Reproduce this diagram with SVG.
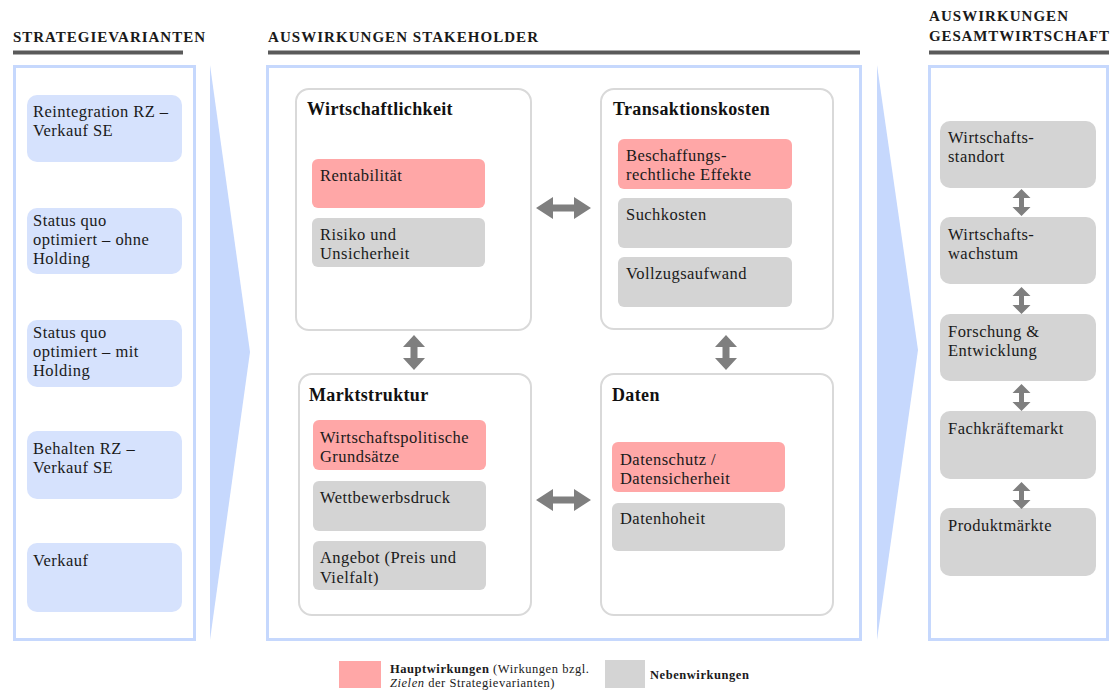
<svg xmlns="http://www.w3.org/2000/svg" width="1117" height="690" viewBox="0 0 1117 690">
<style>
.h{font-family:"Liberation Serif","Times New Roman",serif;font-weight:bold;font-size:15px;fill:#1a1a1a}
.t{font-family:"Liberation Serif","Times New Roman",serif;font-size:16.5px;letter-spacing:0.45px;fill:#1a1a1a}
.tt{font-family:"Liberation Serif","Times New Roman",serif;font-size:18px;letter-spacing:0.35px;font-weight:bold;fill:#111}
.lg{font-family:"Liberation Serif","Times New Roman",serif;font-size:12.5px;letter-spacing:0.55px;fill:#1a1a1a}
.bar{fill:#5a5a5a}
.panel{fill:#fff;stroke:#c6d8fd;stroke-width:3}
.wedge{fill:#c6d8fd}
.sv{fill:#d6e2fd}
.sub{fill:#fff;stroke:#d9d9d9;stroke-width:2}
.main{fill:#ffa7a7}
.side{fill:#d4d4d4}
.arr{fill:#7f7f7f}
</style>
<rect width="1117" height="690" fill="#fff"/>
<g id="headings">
<text class="h" x="13" y="42" textLength="192" lengthAdjust="spacing">STRATEGIEVARIANTEN</text>
<rect class="bar" x="13" y="50.5" width="170" height="4"/>
<text class="h" x="268" y="42" textLength="270" lengthAdjust="spacing">AUSWIRKUNGEN  STAKEHOLDER</text>
<rect class="bar" x="268" y="50.5" width="592" height="4"/>
<text class="h" x="929" y="21" textLength="139" lengthAdjust="spacing">AUSWIRKUNGEN</text>
<text class="h" x="929" y="41" textLength="180" lengthAdjust="spacing">GESAMTWIRTSCHAFT</text>
<rect class="bar" x="929" y="50.5" width="180" height="4"/>
</g>
<g id="panels">
<rect class="panel" x="14.5" y="66.5" width="180" height="573"/>
<polygon class="wedge" points="210,65 250,352 210,640"/>
<rect class="panel" x="267.5" y="66.5" width="593" height="573"/>
<polygon class="wedge" points="877,65 918,350 877,640"/>
<rect class="panel" x="929.5" y="66.5" width="178" height="573"/>
</g>
<g id="strategievarianten">
<g id="sv1"><rect class="sv" x="27" y="95" width="155" height="67" rx="10"/><text class="t" x="33" y="117">Reintegration RZ –</text><text class="t" x="33" y="136">Verkauf SE</text></g>
<g id="sv2"><rect class="sv" x="27" y="208" width="155" height="66" rx="10"/><text class="t" x="33" y="226">Status quo</text><text class="t" x="33" y="245">optimiert – ohne</text><text class="t" x="33" y="264">Holding</text></g>
<g id="sv3"><rect class="sv" x="27" y="320" width="155" height="67" rx="10"/><text class="t" x="33" y="338">Status quo</text><text class="t" x="33" y="357">optimiert – mit</text><text class="t" x="33" y="376">Holding</text></g>
<g id="sv4"><rect class="sv" x="27" y="431" width="155" height="68" rx="10"/><text class="t" x="33" y="454">Behalten RZ –</text><text class="t" x="33" y="473">Verkauf SE</text></g>
<g id="sv5"><rect class="sv" x="27" y="543" width="155" height="69" rx="10"/><text class="t" x="33" y="566">Verkauf</text></g>
</g>
<g id="wirtschaftlichkeit">
<rect class="sub" x="296" y="89" width="235" height="241" rx="13"/>
<text class="tt" x="307" y="115">Wirtschaftlichkeit</text>
<g id="rentabilitaet"><rect class="main" x="312" y="159" width="173" height="49" rx="6"/><text class="t" x="320" y="181">Rentabilität</text></g>
<g id="risiko"><rect class="side" x="312" y="218" width="173" height="49" rx="6"/><text class="t" x="320" y="240">Risiko und</text><text class="t" x="320" y="259">Unsicherheit</text></g>
</g>
<g id="transaktionskosten">
<rect class="sub" x="601" y="89" width="232" height="240" rx="13"/>
<text class="tt" x="613" y="115">Transaktionskosten</text>
<g id="beschaffung"><rect class="main" x="618" y="139" width="174" height="50" rx="6"/><text class="t" x="626" y="161">Beschaffungs-</text><text class="t" x="626" y="180">rechtliche Effekte</text></g>
<g id="suchkosten"><rect class="side" x="618" y="198" width="174" height="50" rx="6"/><text class="t" x="626" y="220">Suchkosten</text></g>
<g id="vollzug"><rect class="side" x="618" y="257" width="174" height="50" rx="6"/><text class="t" x="626" y="279">Vollzugsaufwand</text></g>
</g>
<g id="marktstruktur">
<rect class="sub" x="299" y="374" width="232" height="241" rx="13"/>
<text class="tt" x="309" y="401">Marktstruktur</text>
<g id="wirtschaftspolitik"><rect class="main" x="313" y="420" width="173" height="50" rx="6"/><text class="t" x="320" y="443">Wirtschaftspolitische</text><text class="t" x="320" y="462">Grundsätze</text></g>
<g id="wettbewerb"><rect class="side" x="313" y="481" width="173" height="50" rx="6"/><text class="t" x="320" y="503">Wettbewerbsdruck</text></g>
<g id="angebot"><rect class="side" x="313" y="541" width="173" height="49" rx="6"/><text class="t" x="320" y="563">Angebot (Preis und</text><text class="t" x="320" y="583">Vielfalt)</text></g>
</g>
<g id="daten">
<rect class="sub" x="601" y="374" width="232" height="241" rx="13"/>
<text class="tt" x="612" y="401">Daten</text>
<g id="datenschutz"><rect class="main" x="612" y="442" width="173" height="50" rx="6"/><text class="t" x="620" y="465">Datenschutz /</text><text class="t" x="620" y="484">Datensicherheit</text></g>
<g id="datenhoheit"><rect class="side" x="612" y="503" width="173" height="48" rx="6"/><text class="t" x="620" y="524">Datenhoheit</text></g>
</g>
<g id="gesamtwirtschaft">
<g id="gw1"><rect class="side" x="940" y="121" width="156" height="67" rx="10"/><text class="t" x="948" y="143">Wirtschafts-</text><text class="t" x="948" y="162">standort</text></g>
<g id="gw2"><rect class="side" x="940" y="217" width="156" height="67" rx="10"/><text class="t" x="948" y="240">Wirtschafts-</text><text class="t" x="948" y="259">wachstum</text></g>
<g id="gw3"><rect class="side" x="940" y="314" width="156" height="67" rx="10"/><text class="t" x="948" y="337">Forschung &amp;</text><text class="t" x="948" y="356">Entwicklung</text></g>
<g id="gw4"><rect class="side" x="940" y="411" width="156" height="68" rx="10"/><text class="t" x="948" y="434">Fachkräftemarkt</text></g>
<g id="gw5"><rect class="side" x="940" y="508" width="156" height="68" rx="10"/><text class="t" x="948" y="531">Produktmärkte</text></g>
</g>
<g id="connectors">
<polygon class="arr" points="536,208 553,197 553,204.5 574,204.5 574,197 591,208 574,219 574,211.5 553,211.5 553,219"/>
<polygon class="arr" points="536,500 553,489 553,496.5 574,496.5 574,489 591,500 574,511 574,503.5 553,503.5 553,511"/>
<polygon class="arr" points="414,335 425,347 417.5,347 417.5,358 425,358 414,370 403,358 410.5,358 410.5,347 403,347"/>
<polygon class="arr" points="726,335 737,347 729.5,347 729.5,358 737,358 726,370 715,358 722.5,358 722.5,347 715,347"/>
<polygon class="arr" points="1021.5,189 1030.5,198 1024,198 1024,207 1030.5,207 1021.5,216 1012.5,207 1019,207 1019,198 1012.5,198"/>
<polygon class="arr" points="1021.5,287 1030.5,296 1024,296 1024,305 1030.5,305 1021.5,314 1012.5,305 1019,305 1019,296 1012.5,296"/>
<polygon class="arr" points="1021.5,384 1030.5,393 1024,393 1024,402 1030.5,402 1021.5,411 1012.5,402 1019,402 1019,393 1012.5,393"/>
<polygon class="arr" points="1021.5,482 1030.5,491 1024,491 1024,500 1030.5,500 1021.5,509 1012.5,500 1019,500 1019,491 1012.5,491"/>
</g>
<g id="legende">
<rect class="main" x="339" y="661" width="42" height="27"/>
<text class="lg" x="390" y="673"><tspan font-weight="bold">Hauptwirkungen</tspan> (Wirkungen bzgl.</text>
<text class="lg" x="390" y="687"><tspan font-style="italic">Zielen</tspan> der Strategievarianten)</text>
<rect class="side" x="605" y="660" width="40" height="28"/>
<text class="lg" x="650" y="679" font-weight="bold">Nebenwirkungen</text>
</g>
</svg>
